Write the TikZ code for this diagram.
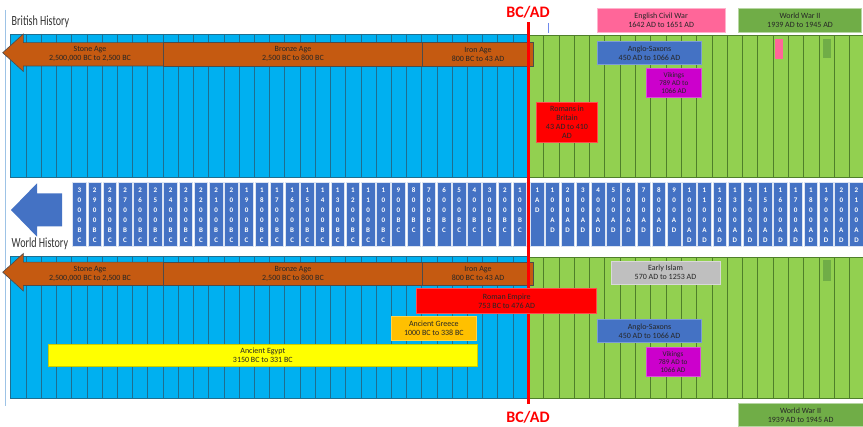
\documentclass[tikz,border=0pt]{standalone}
\usepackage{fontspec}
\usepackage{graphicx}
\setmainfont{Carlito}
\definecolor{bandblue}{HTML}{00B0F0}
\definecolor{blueline}{HTML}{1F6E8F}
\definecolor{bandgreen}{HTML}{92D050}
\definecolor{greenline}{HTML}{4F7F2A}
\definecolor{stripblue}{HTML}{4472C4}
\definecolor{brownbar}{HTML}{C55A11}
\definecolor{vikingc}{HTML}{CC00CC}
\definecolor{ecwpink}{HTML}{FF6699}
\definecolor{wwgreen}{HTML}{70AD47}
\definecolor{islamgray}{HTML}{BFBFBF}
\definecolor{greeceor}{HTML}{FFC000}
\definecolor{egyptyel}{HTML}{FFFF00}
\definecolor{textdark}{HTML}{262626}
\definecolor{edgeblue}{HTML}{9DC3E6}
\begin{document}
\begin{tikzpicture}[x=1pt,y=-1pt,
  bl/.style={draw=blueline,line width=0.7pt},
  gl/.style={draw=greenline,line width=0.7pt},
  yrbox/.style={fill=stripblue,draw=white!80!stripblue,line width=0.7pt,minimum width=13.6pt,minimum height=63.3pt,inner sep=0pt},
  yrtxt/.style={font=\fontsize{7}{10}\selectfont\bfseries,text=white,align=center,anchor=north,inner sep=0pt},
  bar/.style={inner sep=0pt,align=center,font=\fontsize{8}{9}\selectfont,text=textdark,line width=0.6pt},
  smallbar/.style={bar,font=\fontsize{7.2}{8}\selectfont},
  brownbox/.style={bar,fill=brownbar,draw=black!70,minimum height=23.3pt},
  bcad/.style={font=\fontsize{16}{16}\selectfont\bfseries,text=red,inner sep=0pt},
  histtitle/.style={anchor=base west,inner sep=0pt,text=black!80}
]
\useasboundingbox (0,0) rectangle (863,427);

% left edge line
\draw[edgeblue,line width=1pt] (5.5,10) -- (5.5,406);

% ---------- top band ----------
\draw[fill=bandblue,draw=blueline,line width=0.7pt] (10.8,34) rectangle (528.3,177);
\draw[fill=bandgreen,draw=greenline,line width=0.7pt] (528.3,35.5) rectangle (866,177);
\foreach \i in {1,...,33} \draw[bl] ({10.8+15.22*\i},34) -- ({10.8+15.22*\i},177);
\foreach \i in {1,...,22} \draw[gl] ({528.3+15.3*\i},35.5) -- ({528.3+15.3*\i},177);

% ---------- bottom band ----------
\draw[fill=bandblue,draw=blueline,line width=0.7pt] (10.8,256.7) rectangle (528.3,398);
\draw[fill=bandgreen,draw=greenline,line width=0.7pt] (528.3,257.3) rectangle (866,398);
\foreach \i in {1,...,33} \draw[bl] ({10.8+15.22*\i},256.7) -- ({10.8+15.22*\i},398);
\foreach \i in {1,...,22} \draw[gl] ({528.3+15.3*\i},257.3) -- ({528.3+15.3*\i},398);

% ---------- middle strip ----------
\fill[stripblue] (11,210) -- (37,183.3) -- (37,193.3) -- (62,193.3) -- (62,226.3) -- (37,226.3) -- (37,236.7) -- cycle;

\foreach \k/\t in {0/{3\\0\\0\\0\\B\\C},1/{2\\9\\0\\0\\B\\C},2/{2\\8\\0\\0\\B\\C},3/{2\\7\\0\\0\\B\\C},
  4/{2\\6\\0\\0\\B\\C},5/{2\\5\\0\\0\\B\\C},6/{2\\4\\0\\0\\B\\C},7/{2\\3\\0\\0\\B\\C},8/{2\\2\\0\\0\\B\\C},
  9/{2\\1\\0\\0\\B\\C},10/{2\\0\\0\\0\\B\\C},11/{1\\9\\0\\0\\B\\C},12/{1\\8\\0\\0\\B\\C},13/{1\\7\\0\\0\\B\\C},
  14/{1\\6\\0\\0\\B\\C},15/{1\\5\\0\\0\\B\\C},16/{1\\4\\0\\0\\B\\C},17/{1\\3\\0\\0\\B\\C},18/{1\\2\\0\\0\\B\\C},
  19/{1\\1\\0\\0\\B\\C},20/{1\\0\\0\\0\\B\\C},21/{9\\0\\0\\B\\C},22/{8\\0\\0\\B\\C},23/{7\\0\\0\\B\\C},
  24/{6\\0\\0\\B\\C},25/{5\\0\\0\\B\\C},26/{4\\0\\0\\B\\C},27/{3\\0\\0\\B\\C},28/{2\\0\\0\\B\\C},29/{1\\0\\0\\B\\C}}{
  \node[yrbox] (bc\k) at ({72.7+15.19*\k+6.8},214.35) {};
  \node[yrtxt] (bct\k) at ({72.7+15.19*\k+6.8},187.7) {\t};
}
\foreach \k/\t in {0/{1\\A\\D},1/{1\\0\\0\\A\\D},2/{2\\0\\0\\A\\D},3/{3\\0\\0\\A\\D},4/{4\\0\\0\\A\\D},
  5/{5\\0\\0\\A\\D},6/{6\\0\\0\\A\\D},7/{7\\0\\0\\A\\D},8/{8\\0\\0\\A\\D},9/{9\\0\\0\\A\\D},
  10/{1\\0\\0\\0\\A\\D},11/{1\\1\\0\\0\\A\\D},12/{1\\2\\0\\0\\A\\D},13/{1\\3\\0\\0\\A\\D},14/{1\\4\\0\\0\\A\\D},
  15/{1\\5\\0\\0\\A\\D},16/{1\\6\\0\\0\\A\\D},17/{1\\7\\0\\0\\A\\D},18/{1\\8\\0\\0\\A\\D},19/{1\\9\\0\\0\\A\\D},
  20/{2\\0\\0\\0\\A\\D},21/{2\\1\\0\\0\\A\\D}}{
  \node[yrbox] (ad\k) at ({530.5+15.2*\k+6.8},214.35) {};
  \node[yrtxt] (adt\k) at ({530.5+15.2*\k+6.8},187.7) {\t};
}

% titles
\node[histtitle] (brit) at (11.5,26) {\scalebox{0.72}[1]{\fontsize{14}{14}\selectfont British History}};
\node[histtitle] (world) at (11.5,247.5) {\scalebox{0.72}[1]{\fontsize{14}{14}\selectfont World History}};

% ---------- brown age bars ----------
\draw[fill=brownbar,draw=black!70,line width=0.6pt] (2.7,52.7) -- (23.3,34) -- (23.3,42.7) -- (163.3,42.7) -- (163.3,66) -- (23.3,66) -- (23.3,71.4) -- cycle;
\node[bar] (stoneT) at (90,54.35) {Stone Age\\2,500,000 BC to 2,500 BC};
\node[brownbox,minimum width=259.4pt] (bronzeT) at (293,54.35) {Bronze Age\\2,500 BC to 800 BC};
\node[brownbox,minimum width=110.6pt] (ironT) at (478,54.35) {Iron Age\\800 BC to 43 AD};
\draw[fill=brownbar,draw=black!70,line width=0.6pt] (2.7,272.2) -- (23.3,253.5) -- (23.3,262.2) -- (163.3,262.2) -- (163.3,285.5) -- (23.3,285.5) -- (23.3,290.9) -- cycle;
\node[bar] (stoneB) at (90,273.85) {Stone Age\\2,500,000 BC to 2,500 BC};
\node[brownbox,minimum width=259.4pt] (bronzeB) at (293,273.85) {Bronze Age\\2,500 BC to 800 BC};
\node[brownbox,minimum width=110.6pt] (ironB) at (478,273.85) {Iron Age\\800 BC to 43 AD};

% ---------- BC/AD line ----------
\coordinate (redtop) at (528.3,22.5);
\coordinate (redbot) at (528.3,404);
\draw[red,line width=3pt] (redtop) -- (redbot);
\coordinate (ticka) at (548.3,23);
\coordinate (tickb) at (548.3,33);
\draw[edgeblue!70!blue,line width=0.8pt] (ticka) -- (tickb);
\node[bcad] (bcadT) at (528,12) {BC/AD};
\node[bcad] (bcadB) at (528,417) {BC/AD};

% ---------- top bars ----------
\node[bar,fill=red,draw=red!70!white,minimum width=60.6pt,minimum height=40.7pt] (romansB) at (567,122.35) {Romans in\\Britain\\43 AD to 410\\AD};
\node[bar,fill=stripblue,draw=stripblue!70!white,minimum width=104.4pt,minimum height=22.6pt] (angloT) at (649.5,53) {Anglo-Saxons\\450 AD to 1066 AD};
\node[smallbar,fill=vikingc,draw=vikingc!70!white,minimum width=55.7pt,minimum height=29pt] (vikingT) at (673.85,82.8) {Vikings\\789 AD to\\1066 AD};
\node[bar,fill=ecwpink,draw=ecwpink!50!white,minimum width=127.7pt,minimum height=24pt] (ecw) at (661.15,20.3) {English Civil War\\1642 AD to 1651 AD};
\node[bar,fill=wwgreen,draw=wwgreen!50!white,minimum width=123.4pt,minimum height=24pt] (wwT) at (800,20.3) {World War II\\1939 AD to 1945 AD};
\node[fill=ecwpink,inner sep=0pt,minimum width=8.3pt,minimum height=19.7pt] (ecwmark) at (779.15,49.15) {};
\node[fill=wwgreen,inner sep=0pt,minimum width=7.4pt,minimum height=19pt] (wwmarkT) at (827,48.8) {};

% ---------- bottom bars ----------
\node[bar,fill=red,draw=red!70!white,minimum width=180pt,minimum height=25pt] (roman) at (506.7,300.8) {Roman Empire\\753 BC to 476 AD};
\node[bar,fill=greeceor,draw=greeceor!70!white,minimum width=85.7pt,minimum height=23.3pt] (greece) at (433.85,328.35) {Ancient Greece\\1000 BC to 338 BC};
\node[bar,fill=egyptyel,draw=egyptyel!80!black,line width=0.4pt,minimum width=429pt,minimum height=22.7pt] (egypt) at (262.8,355.35) {Ancient Egypt\\3150 BC to 331 BC};
\node[bar,fill=islamgray,draw=islamgray!60!white,minimum width=109pt,minimum height=23pt] (islam) at (665.5,272.5) {Early Islam\\570 AD to 1253 AD};
\node[bar,fill=stripblue,draw=stripblue!70!white,minimum width=104.4pt,minimum height=23pt] (angloB) at (649.5,330.8) {Anglo-Saxons\\450 AD to 1066 AD};
\node[smallbar,fill=vikingc,draw=vikingc!70!white,minimum width=54pt,minimum height=29.4pt] (vikingB) at (673,362) {Vikings\\789 AD to\\1066 AD};
\node[fill=wwgreen,inner sep=0pt,minimum width=7.7pt,minimum height=20.7pt] (wwmarkB) at (827.15,270.35) {};
\node[bar,fill=wwgreen,draw=wwgreen!50!white,minimum width=124.7pt,minimum height=23.4pt] (wwB) at (800.65,415) {World War II\\1939 AD to 1945 AD};
\end{tikzpicture}
\end{document}
